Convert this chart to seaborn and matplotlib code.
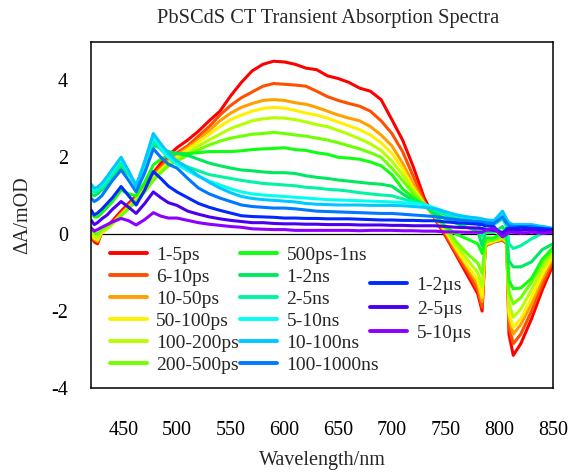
import pandas as pd
import matplotlib
matplotlib.use('Agg')
import matplotlib.pyplot as plt
from matplotlib.lines import Line2D
import seaborn as sns

# Wavelength grid (nm) shared by every spectrum
wavelength = [420, 423, 426, 430, 435, 440, 448, 455, 462, 470, 478, 485, 492, 500,
              510, 520, 530, 540, 550, 560, 570, 580, 590, 600, 610, 620, 630, 640,
              650, 660, 670, 680, 690, 700, 710, 720, 730,
              740, 750, 760, 770, 780,
              784, 787, 795, 803, 807, 809, 813,
              820, 830, 840, 850]

delays = ['1-5ps', '6-10ps', '10-50ps', '50-100ps', '100-200ps', '200-500ps',
          '500ps-1ns', '1-2ns', '2-5ns', '5-10ns', '10-100ns', '100-1000ns',
          '1-2\u00b5s', '2-5\u00b5s', '5-10\u00b5s']

colors = ['#ff0000', '#ff5000', '#ffa000', '#fff000', '#b4ff00', '#70ff00',
          '#10ff10', '#00e860', '#00f5a0', '#00fff0', '#00c8ff', '#0078ff',
          '#0028ff', '#4a00f0', '#8c00ff']

# dA (mOD) for each delay window
s_1_5ps = [-0.05, -0.2, -0.25, 0.05, 0.2, 0.35, 0.6, 0.8, 1.0, 1.3, 1.6, 1.85, 2.05, 2.25,
           2.45, 2.68, 2.95, 3.2, 3.6, 3.95, 4.25, 4.42, 4.5, 4.48, 4.42, 4.32, 4.28, 4.12,
           4.05, 3.95, 3.8, 3.72, 3.5, 2.98, 2.45, 1.75, 0.95,
           0.4, -0.05, -0.55, -1.05, -1.55,
           -2.0, -0.3, -0.2, -0.15, -0.25, -2.6, -3.15,
           -2.85, -2.2, -1.45, -0.8]
s_6_10ps = [0.0, -0.15, -0.2, 0.05, 0.15, 0.3, 0.55, 0.75, 0.95, 1.25, 1.55, 1.75, 1.95, 2.12,
            2.3, 2.55, 2.8, 3.1, 3.35, 3.55, 3.7, 3.85, 3.92, 3.9, 3.88, 3.85, 3.72, 3.58,
            3.48, 3.4, 3.33, 3.2, 2.95, 2.62, 2.15, 1.5, 0.85,
            0.42, 0.0, -0.5, -0.95, -1.45,
            -1.9, -0.3, -0.2, -0.15, -0.25, -2.4, -2.85,
            -2.6, -2.0, -1.3, -0.7]
s_10_50ps = [0.02, -0.12, -0.18, 0.05, 0.15, 0.28, 0.52, 0.72, 0.92, 1.2, 1.5, 1.7, 1.9, 2.05,
             2.25, 2.45, 2.7, 2.95, 3.15, 3.3, 3.4, 3.48, 3.5, 3.48, 3.42, 3.38, 3.3, 3.2,
             3.1, 3.02, 2.95, 2.8, 2.58, 2.3, 1.85, 1.3, 0.8,
             0.45, 0.05, -0.42, -0.85, -1.3,
             -1.75, -0.28, -0.2, -0.12, -0.22, -2.2, -2.6,
             -2.35, -1.8, -1.15, -0.62]
s_50_100ps = [0.05, -0.1, -0.15, 0.05, 0.15, 0.27, 0.5, 0.7, 0.9, 1.17, 1.47, 1.67, 1.86, 2.0,
              2.2, 2.4, 2.6, 2.8, 2.98, 3.1, 3.2, 3.27, 3.3, 3.28, 3.22, 3.15, 3.1, 3.02,
              2.92, 2.82, 2.72, 2.58, 2.38, 2.1, 1.7, 1.2, 0.8,
              0.47, 0.08, -0.38, -0.8, -1.2,
              -1.64, -0.25, -0.18, -0.1, -0.2, -2.05, -2.42,
              -2.2, -1.65, -1.05, -0.55]
s_100_200ps = [0.1, -0.05, -0.1, 0.08, 0.15, 0.27, 0.48, 0.68, 0.88, 1.13, 1.43, 1.63, 1.82, 1.95,
               2.1, 2.3, 2.45, 2.6, 2.75, 2.85, 2.95, 3.0, 3.03, 3.02, 2.98, 2.92, 2.85, 2.8,
               2.7, 2.6, 2.48, 2.35, 2.18, 1.9, 1.55, 1.15, 0.8,
               0.5, 0.12, -0.3, -0.65, -1.0,
               -1.38, -0.22, -0.15, -0.1, -0.2, -1.8, -2.16,
               -1.95, -1.45, -0.9, -0.48]
s_200_500ps = [0.2, 0.05, 0.0, 0.12, 0.2, 0.3, 0.48, 0.66, 0.85, 1.1, 1.4, 1.6, 1.78, 1.9,
               2.05, 2.2, 2.32, 2.42, 2.5, 2.55, 2.6, 2.62, 2.65, 2.62, 2.58, 2.55, 2.5, 2.45,
               2.38, 2.3, 2.22, 2.12, 2.0, 1.72, 1.4, 1.05, 0.78,
               0.52, 0.18, -0.2, -0.5, -0.75,
               -1.02, -0.2, -0.15, -0.05, -0.15, -1.5, -1.81,
               -1.65, -1.25, -0.75, -0.4]
s_500ps_1ns = [0.55, 0.45, 0.45, 0.55, 0.7, 0.85, 1.15, 1.05, 1.0, 1.35, 1.8, 1.95, 2.05, 2.1,
               2.1, 2.12, 2.15, 2.15, 2.15, 2.17, 2.2, 2.22, 2.23, 2.25, 2.2, 2.18, 2.12, 2.08,
               2.0, 1.98, 1.95, 1.88, 1.78, 1.55, 1.18, 0.95, 0.75,
               0.5, 0.2, 0.0, -0.12, -0.25,
               -0.5, -0.1, -0.1, 0.05, -0.1, -1.2, -1.42,
               -1.4, -1.15, -0.65, -0.35]
s_1_2ns = [1.05, 1.0, 1.05, 1.15, 1.3, 1.5, 1.75, 1.55, 1.3, 1.75, 2.3, 2.25, 2.15, 2.1,
           2.05, 1.95, 1.85, 1.78, 1.72, 1.67, 1.65, 1.62, 1.6, 1.6, 1.58, 1.52, 1.48, 1.45,
           1.41, 1.38, 1.35, 1.32, 1.3, 1.25, 1.05, 0.88, 0.78,
           0.55, 0.4, 0.28, 0.18, 0.08,
           -0.3, 0.05, 0.05, 0.2, 0.0, -0.7, -0.85,
           -0.85, -0.72, -0.4, -0.25]
s_2_5ns = [1.15, 1.1, 1.12, 1.2, 1.35, 1.55, 1.85, 1.6, 1.25, 1.8, 2.42, 2.2, 2.0, 1.88,
           1.75, 1.65, 1.55, 1.5, 1.45, 1.4, 1.36, 1.32, 1.3, 1.28, 1.26, 1.22, 1.2, 1.17,
           1.15, 1.12, 1.08, 1.05, 1.02, 1.0, 0.92, 0.85, 0.78,
           0.62, 0.5, 0.42, 0.38, 0.3,
           -0.05, 0.25, 0.25, 0.4, 0.2, -0.25, -0.37,
           -0.3, -0.12, 0.02, 0.08]
s_5_10ns = [1.25, 1.15, 1.2, 1.3, 1.45, 1.65, 1.98, 1.6, 1.24, 1.85, 2.55, 2.25, 2.0, 1.82,
            1.65, 1.5, 1.38, 1.28, 1.18, 1.1, 1.05, 1.02, 1.0, 0.98, 0.96, 0.94, 0.92, 0.9,
            0.89, 0.88, 0.87, 0.86, 0.85, 0.84, 0.82, 0.8, 0.78,
            0.68, 0.58, 0.5, 0.45, 0.4,
            0.3, 0.35, 0.35, 0.55, 0.35, 0.15, 0.1,
            0.15, 0.2, 0.2, 0.15]
s_10_100ns = [1.3, 1.2, 1.22, 1.32, 1.5, 1.7, 2.0, 1.65, 1.25, 1.9, 2.62, 2.35, 2.1, 1.9,
              1.72, 1.52, 1.35, 1.2, 1.08, 0.98, 0.93, 0.9, 0.88, 0.86, 0.84, 0.8, 0.78, 0.77,
              0.76, 0.76, 0.76, 0.75, 0.75, 0.75, 0.74, 0.72, 0.7,
              0.66, 0.58, 0.5, 0.45, 0.42,
              0.4, 0.38, 0.35, 0.6, 0.38, 0.3, 0.25,
              0.25, 0.25, 0.2, 0.15]
s_100_1000ns = [0.94, 0.85, 0.9, 1.0, 1.2, 1.4, 1.67, 1.4, 1.1, 1.6, 2.22, 2.0, 1.82, 1.72,
                1.45, 1.2, 1.05, 0.94, 0.85, 0.76, 0.72, 0.7, 0.68, 0.68, 0.66, 0.63, 0.6, 0.59,
                0.58, 0.57, 0.56, 0.55, 0.54, 0.54, 0.52, 0.5, 0.48,
                0.46, 0.42, 0.38, 0.35, 0.33,
                0.32, 0.3, 0.28, 0.45, 0.28, 0.22, 0.2,
                0.2, 0.2, 0.15, 0.12]
s_1_2us = [0.63, 0.5, 0.55, 0.65, 0.8, 0.95, 1.24, 1.0, 0.76, 1.15, 1.63, 1.45, 1.25, 1.1,
           0.95, 0.8, 0.7, 0.62, 0.55, 0.48, 0.46, 0.45, 0.44, 0.42, 0.42, 0.41, 0.41, 0.4,
           0.4, 0.4, 0.39, 0.38, 0.37, 0.37, 0.36, 0.36, 0.35,
           0.35, 0.32, 0.3, 0.28, 0.26,
           0.25, 0.22, 0.2, -0.05, 0.15, 0.15, 0.15,
           0.18, 0.15, 0.15, 0.12]
s_2_5us = [0.37, 0.25, 0.3, 0.4, 0.5, 0.65, 0.85, 0.7, 0.54, 0.8, 1.1, 0.95, 0.82, 0.75,
           0.6, 0.52, 0.45, 0.4, 0.36, 0.33, 0.3, 0.3, 0.28, 0.27, 0.27, 0.26, 0.26, 0.25,
           0.25, 0.25, 0.24, 0.24, 0.24, 0.23, 0.23, 0.22, 0.22,
           0.22, 0.2, 0.18, 0.17, 0.16,
           0.15, 0.12, 0.1, 0.05, 0.1, 0.12, 0.1,
           0.1, 0.12, 0.08, 0.1]
s_5_10us = [0.16, 0.08, 0.12, 0.18, 0.25, 0.32, 0.41, 0.35, 0.24, 0.38, 0.56, 0.47, 0.42, 0.42,
            0.36, 0.3, 0.26, 0.23, 0.2, 0.18, 0.14, 0.13, 0.12, 0.12, 0.1, 0.1, 0.1, 0.1,
            0.1, 0.1, 0.09, 0.1, 0.1, 0.1, 0.09, 0.09, 0.08,
            0.08, 0.06, 0.06, 0.05, 0.05,
            0.05, 0.1, 0.16, -0.07, 0.0, 0.05, 0.05,
            0.02, 0.05, 0.02, 0.05]

spectra = [s_1_5ps, s_6_10ps, s_10_50ps, s_50_100ps, s_100_200ps, s_200_500ps,
           s_500ps_1ns, s_1_2ns, s_2_5ns, s_5_10ns, s_10_100ns, s_100_1000ns,
           s_1_2us, s_2_5us, s_5_10us]

# long-form table for seaborn
frames = []
for label, vals in zip(delays, spectra):
    frames.append(pd.DataFrame({'Wavelength': wavelength, 'dA': vals, 'Delay': label}))
df = pd.concat(frames, ignore_index=True)

sns.set_theme(style='white')
plt.rcParams['font.family'] = ['Liberation Serif', 'DejaVu Serif']
plt.rcParams['axes.unicode_minus'] = False

fig = plt.figure(figsize=(5.71, 4.75), dpi=100)
ax = fig.add_axes([0.1594, 0.1832, 0.8091, 0.7284])

ax.axhline(0, color='black', lw=0.9, zorder=1)
sns.lineplot(data=df, x='Wavelength', y='dA', hue='Delay', hue_order=delays,
             palette=colors, linewidth=2.2, legend=False, ax=ax, zorder=2)

ax.set_xlim(420, 850)
ax.set_ylim(-4, 5)
ax.set_xticks([450, 500, 550, 600, 650, 700, 750, 800, 850])
ax.set_yticks([-4, -2, 0, 2, 4])
ax.tick_params(axis='both', direction='out', length=10.5, width=1.1,
               labelsize=14.5, color='black', labelcolor='black')
ax.tick_params(axis='x', pad=13)
ax.tick_params(axis='y', pad=6)
for sp in ax.spines.values():
    sp.set_color('black')
    sp.set_linewidth(1.1)

ax.set_xlabel('Wavelength/nm', fontsize=14.5, labelpad=8)
ax.set_ylabel('\u0394A/mOD', fontsize=14.5, labelpad=14)
fig.suptitle('PbSCdS CT Transient Absorption Spectra', fontsize=14.7,
             x=0.575, y=0.962, va='center')

# legend in three blocks like the original
handles = [Line2D([0], [0], color=c, lw=2.8) for c in colors]
leg_kw = dict(frameon=False, fontsize=14, handlelength=1.9, handletextpad=0.5,
              borderpad=0, borderaxespad=0, loc='upper left',
              bbox_transform=fig.transFigure)
leg1 = ax.legend(handles[:6], delays[:6], bbox_to_anchor=(0.192, 0.482),
                 labelspacing=0.23, **leg_kw)
ax.add_artist(leg1)
leg2 = ax.legend(handles[6:12], delays[6:12], bbox_to_anchor=(0.42, 0.482),
                 labelspacing=0.23, **leg_kw)
ax.add_artist(leg2)
ax.legend(handles[12:], delays[12:], bbox_to_anchor=(0.648, 0.418),
          labelspacing=0.32, **leg_kw)

plt.savefig('out.png', dpi=100)
plt.close()
